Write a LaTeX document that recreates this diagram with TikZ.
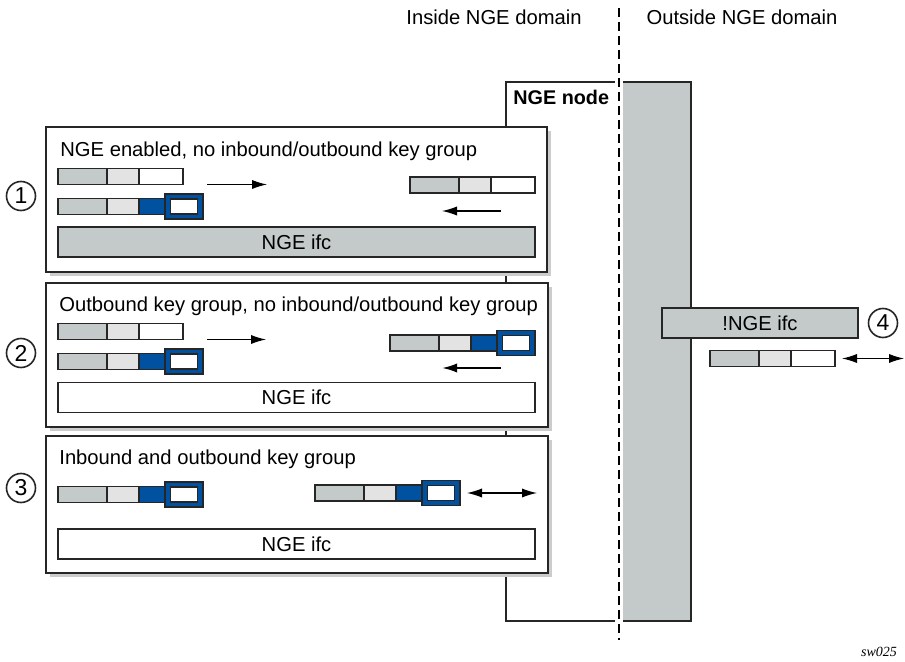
\documentclass[tikz,border=0pt]{standalone}
\usepackage{fontspec}
\setmainfont{Liberation Sans}
\newfontfamily\tagfont{Liberation Serif}
\usetikzlibrary{positioning, arrows.meta, shadows}
\definecolor{pktgray}{RGB}{196,201,201}
\definecolor{pktlight}{RGB}{227,227,227}
\definecolor{keyblue}{RGB}{0,82,160}
\tikzset{
    every node/.style={font=\fontsize{10.1}{12}\selectfont},
    casebox/.style={draw=black!85, fill=white, line width=1.1pt, inner sep=0pt, outer sep=0pt,
        drop shadow={shadow xshift=2pt, shadow yshift=-2pt, fill=black!20, opacity=1}},
    seg/.style={draw=black!85, line width=0.9pt, minimum height=8pt, inner sep=0pt, outer sep=0pt},
    keybox/.style={draw=black!85, fill=keyblue, line width=0.9pt, minimum width=19pt, minimum height=12.5pt, inner sep=0pt, outer sep=0pt},
    keyhole/.style={draw=black!85, fill=white, line width=0.9pt, minimum width=13.5pt, minimum height=7.5pt, inner sep=0pt},
    ifcbar/.style={draw=black!85, line width=0.9pt, minimum width=238.5pt, minimum height=15pt, inner sep=0pt},
    numcircle/.style={circle, draw=black!85, line width=0.8pt, minimum size=14.5pt, inner sep=0pt, font=\fontsize{11.5}{12}\selectfont},
    flow/.style={-{Latex[length=7.5pt,width=4.6pt]}, line width=0.6pt},
    bothflow/.style={{Latex[length=7.5pt,width=4.6pt]}-{Latex[length=7.5pt,width=4.6pt]}, line width=0.6pt},
    divider/.style={line width=1.1pt, dash pattern=on 4.5pt off 2.5pt},
}
% packet without key: name, west point
\newcommand\plainpkt[2]{%
  \node[seg, fill=pktgray, minimum width=24.5pt, anchor=west] (#1g) at #2 {};
  \node[seg, fill=pktlight, minimum width=16pt, right=0pt of #1g] (#1l) {};
  \node[seg, fill=white, minimum width=22pt, right=0pt of #1l] (#1w) {};}
% packet with key group: name, west point
\newcommand\keypkt[2]{%
  \node[seg, fill=pktgray, minimum width=24.5pt, anchor=west] (#1g) at #2 {};
  \node[seg, fill=pktlight, minimum width=16pt, right=0pt of #1g] (#1l) {};
  \node[seg, fill=keyblue, minimum width=13pt, right=0pt of #1l] (#1b) {};
  \node[keybox, right=0pt of #1b] (#1k) {};
  \node[keyhole] (#1h) at (#1k) {};}

\begin{document}
\begin{tikzpicture}[x=0.5pt, y=-0.5pt]
  \useasboundingbox (0,0) rectangle (905,662);
  % domains and NGE node
  \node[anchor=base] (inside) at (494,25) {Inside NGE domain};
  \node[anchor=base] (outside) at (742,25) {Outside NGE domain};
  \fill[pktgray] (619,82) rectangle (691,621);
  \draw[line width=1.1pt, black!85] (506,82) rectangle (691,621);
  \node[anchor=base west, inner sep=0pt, font=\fontsize{9.9}{12}\selectfont\bfseries] (ngenode) at (513,105) {NGE node};
  \draw[white, line width=4pt] (619,8) -- (619,640);
  \draw[divider] (619,8) -- (619,640);

  % case 1
  \node[casebox, minimum width=250.5pt, minimum height=72.5pt] (case1) at (296.5,199.5) {};
  \node[anchor=base west, inner sep=0pt] (title1) at (60,157) {NGE enabled, no inbound/outbound key group};
  \plainpkt{a1}{(58,176.5)}
  \keypkt{k1}{(58,206.5)}
  \plainpkt{b1}{(410,185)}
  \node[ifcbar, fill=pktgray] (ifc1) at (296.5,242) {NGE ifc};
  \draw[flow] ([xshift=12pt]a1w.south east) -- ++(30pt,0);
  \draw[flow] ([xshift=-17pt, yshift=-9pt]b1w.south east) -- ++(-29.5pt,0);

  % case 2
  \node[casebox, minimum width=251pt, minimum height=72pt] (case2) at (297,355) {};
  \node[anchor=base west, inner sep=0pt] (title2) at (59,312) {Outbound key group, no inbound/outbound key group};
  \plainpkt{a2}{(58,331.5)}
  \keypkt{k2}{(58,361.5)}
  \keypkt{b2}{(390,343)}
  \node[ifcbar, fill=white] (ifc2) at (296.5,397.5) {NGE ifc};
  \draw[flow] ([xshift=12pt]a2w.south east) -- ++(29.5pt,0);
  \draw[flow, line width=1pt] ([xshift=-17pt, yshift=-6.25pt]b2k.south east) -- ++(-29.5pt,0);

  % case 3
  \node[casebox, minimum width=251pt, minimum height=68.5pt] (case3) at (297,504.5) {};
  \node[anchor=base west, inner sep=0pt] (title3) at (59,465) {Inbound and outbound key group};
  \keypkt{k3}{(58,494.5)}
  \keypkt{b3}{(315,493)}
  \node[ifcbar, fill=white] (ifc3) at (296.5,544) {NGE ifc};
  \draw[bothflow] ([xshift=3.5pt]b3k.east) -- ++(35pt,0);

  % outside the domain
  \node[ifcbar, fill=pktgray, minimum width=98pt] (ifc4) at (760,323) {!NGE ifc};
  \plainpkt{o4}{(710,358.5)}
  \draw[bothflow] ([xshift=3.5pt]o4w.east) -- ++(31pt,0);

  % case numbers
  \node[numcircle] (n1) at (21,196) {1};
  \node[numcircle] (n2) at (21,353) {2};
  \node[numcircle] (n3) at (21,488) {3};
  \node[numcircle] (n4) at (883,323) {4};
  \node[font={\tagfont\itshape\fontsize{7}{8}\selectfont}] (tag) at (879,652) {sw025};
\end{tikzpicture}
\end{document}
